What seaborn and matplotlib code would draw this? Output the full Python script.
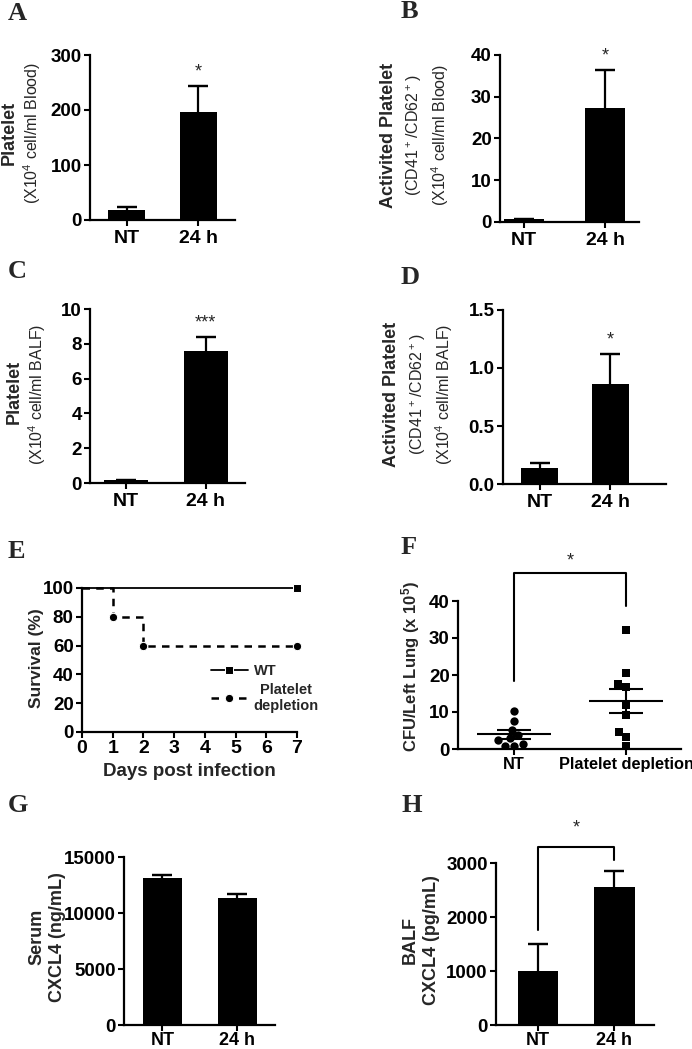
import numpy as np
import pandas as pd
import matplotlib
matplotlib.use("Agg")
import matplotlib.pyplot as plt
import seaborn as sns

W, H = 692, 1049

# values
bar_groups = ["NT", "24 h"]

blood_platelet = [18, 197]
blood_platelet_sem = [6, 47]

blood_active = [0.7, 27.3]
blood_active_sem = [0.1, 9.2]

balf_platelet = [0.17, 7.6]
balf_platelet_sem = [0.03, 0.8]

balf_active = [0.14, 0.86]
balf_active_sem = [0.04, 0.26]

serum_cxcl4 = [13150, 11370]
serum_cxcl4_sem = [280, 360]

balf_cxcl4 = [1005, 2555]
balf_cxcl4_sem = [495, 297]

days = [0, 1, 2, 7]
surv_wt = [100, 100, 100, 100]
surv_depl = [100, 80, 60, 60]

cfu_groups = ["NT", "Platelet depletion"]
cfu_nt = [10.3, 7.7, 5.2, 3.7, 2.9, 2.3, 1.4, 0.9, 0.9]
cfu_depl = [32.1, 20.5, 16.8, 17.5, 12.0, 9.1, 4.6, 3.2, 0.8]

sns.set_theme(style="ticks")
plt.rcParams["font.family"] = ["Liberation Sans", "DejaVu Sans"]
plt.rcParams["font.weight"] = "bold"
plt.rcParams["mathtext.default"] = "regular"

fig = plt.figure(figsize=(W / 100, H / 100), dpi=100)


def add_ax(x0, y0, x1, y1):
    # box in pixels (left, top, right, bottom)
    return fig.add_axes([x0 / W, 1 - y1 / H, (x1 - x0) / W, (y1 - y0) / H])


def ftext(x, y, s, **kw):
    kw.setdefault("ha", "center")
    kw.setdefault("va", "center")
    return fig.text(x / W, 1 - y / H, s, **kw)


def style_ax(ax):
    sns.despine(ax=ax)
    for sp in ["left", "bottom"]:
        ax.spines[sp].set_linewidth(1.6)
        ax.spines[sp].set_color("black")
    ax.tick_params(direction="out", length=4, width=1.5, labelsize=13.5,
                   colors="black", pad=2)
    ax.set_xlabel("")
    ax.set_ylabel("")


def bar_panel(box, xlim, vals, errs, yticks, width, fmt="{:g}", star=None):
    ax = add_ax(*box)
    df = pd.DataFrame({"group": bar_groups, "value": vals})
    sns.barplot(data=df, x="group", y="value", color="black", saturation=1,
                width=width, errorbar=None, edgecolor="black", linewidth=0, ax=ax)
    # only the upper half of the SEM bar, as in the original
    ups = np.array(vals) + np.array(errs)
    ax.vlines([0, 1], vals, ups, color="black", linewidth=1.6)
    ax.errorbar([0, 1], ups, yerr=0, fmt="none", ecolor="black",
                capsize=7, capthick=1.6)
    ax.set_xlim(*xlim)
    ax.set_ylim(yticks[0], yticks[-1])
    ax.set_yticks(yticks)
    ax.set_yticklabels([fmt.format(t) for t in yticks])
    style_ax(ax)
    ax.tick_params(axis="x", labelsize=14, pad=3)
    if star:
        top = yticks[-1]
        ax.text(1, ups[1] + 0.03 * top, star, ha="center", va="bottom",
                fontsize=13, fontweight="normal", clip_on=False)
    return ax


# A
bar_panel((90, 55, 235, 220), (-0.52, 1.52), blood_platelet, blood_platelet_sem,
          [0, 100, 200, 300], 0.52, star="*")
ftext(9, 133, "Platelet", rotation=90, fontsize=13)
ftext(32, 133, "(X10$^4$ cell/ml Blood)", rotation=90, fontsize=11.5, fontweight="normal")

# B
bar_panel((500, 55, 639, 222), (-0.30, 1.42), blood_active, blood_active_sem,
          [0, 10, 20, 30, 40], 0.5, star="*")
ftext(389, 135, "Activited Platelet", rotation=90, fontsize=13)
ftext(414, 135, "(CD41$^+$/CD62$^+$)", rotation=90, fontsize=11.5, fontweight="normal")
ftext(440, 135, "(X10$^4$ cell/ml Blood)", rotation=90, fontsize=11.5, fontweight="normal")

# C
bar_panel((90, 309, 245, 483), (-0.45, 1.49), balf_platelet, balf_platelet_sem,
          [0, 2, 4, 6, 8, 10], 0.55, star="***")
ftext(14, 392, "Platelet", rotation=90, fontsize=13)
ftext(37, 394, "(X10$^4$ cell/ml BALF)", rotation=90, fontsize=11.5, fontweight="normal")

# D
bar_panel((503, 310, 666, 484), (-0.52, 1.79), balf_active, balf_active_sem,
          [0.0, 0.5, 1.0, 1.5], 0.53, fmt="{:.1f}", star="*")
ftext(391, 394, "Activited Platelet", rotation=90, fontsize=13)
ftext(418, 394, "(CD41$^+$/CD62$^+$)", rotation=90, fontsize=11.5, fontweight="normal")
ftext(444, 394, "(X10$^4$ cell/ml BALF)", rotation=90, fontsize=11.5, fontweight="normal")

# E - survival
ax = add_ax(82, 588, 297, 732)
sns.lineplot(x=days, y=surv_wt, color="black", linewidth=1.3, drawstyle="steps-post",
             marker="s", markersize=6, markevery=[3], label="WT", ax=ax, clip_on=False)
sns.lineplot(x=days, y=surv_depl, color="black", linewidth=1.8, drawstyle="steps-post",
             linestyle=(0, (3, 2.5)), marker="o", markersize=6, markevery=[1, 2, 3],
             label="Platelet\ndepletion", ax=ax, clip_on=False)
ax.set_xlim(0, 7)
ax.set_ylim(0, 100)
ax.set_xticks(range(8))
ax.set_yticks(range(0, 101, 20))
style_ax(ax)
ax.tick_params(axis="x", labelsize=14)
ax.set_xlabel("Days post infection", fontsize=13.5, fontweight="bold", labelpad=4)
ftext(37, 658, "Survival (%)", rotation=90, fontsize=12.5)
leg = ax.legend(loc="upper left", bbox_to_anchor=(0.54, 0.56), frameon=False,
                fontsize=10.5, handlelength=2.5, handletextpad=0.4, labelspacing=0.3)
for t in leg.get_texts():
    t.set_multialignment("center")

# F - CFU scatter
ax = add_ax(458, 601, 681, 749)
df_nt = pd.DataFrame({"group": "NT", "cfu": cfu_nt})
df_dp = pd.DataFrame({"group": "Platelet depletion", "cfu": cfu_depl})
sns.swarmplot(data=df_nt, x="group", y="cfu", order=cfu_groups, color="black",
              marker="o", size=6, ax=ax)
sns.swarmplot(data=df_dp, x="group", y="cfu", order=cfu_groups, color="black",
              marker="s", size=6, ax=ax)
for i, v in enumerate([cfu_nt, cfu_depl]):
    m = np.mean(v)
    s = np.std(v, ddof=1) / np.sqrt(len(v))
    ax.hlines(m, i - 0.33, i + 0.33, color="black", linewidth=1.5)
    ax.hlines([m - s, m + s], i - 0.15, i + 0.15, color="black", linewidth=1.5)
    ax.vlines(i, m - s, m + s, color="black", linewidth=1.5)
ax.set_xlim(-0.5, 1.49)
ax.set_ylim(0, 40)
ax.set_yticks(range(0, 41, 10))
style_ax(ax)
ax.tick_params(axis="x", labelsize=11.8)
top = 40 * 1.19
ax.plot([0, 0, 1, 1], [max(cfu_nt) + 8, top, top, max(cfu_depl) + 6.5],
        color="black", linewidth=1.5, clip_on=False)
ax.text(0.5, top + 0.8, "*", ha="center", va="bottom", fontsize=13,
        fontweight="normal", clip_on=False)
ftext(411, 667, "CFU/Left Lung (x 10$^{5}$)", rotation=90, fontsize=12)

# G
ax = bar_panel((124, 857, 275, 1025), (-0.51, 1.5), serum_cxcl4, serum_cxcl4_sem,
               [0, 5000, 10000, 15000], 0.52)
ax.tick_params(axis="x", labelsize=13, pad=1)
ftext(37, 937, "Serum", rotation=90, fontsize=13)
ftext(57, 937, "CXCL4 (ng/mL)", rotation=90, fontsize=13)

# H
ax = bar_panel((496, 863, 654, 1025), (-0.55, 1.52), balf_cxcl4, balf_cxcl4_sem,
               [0, 1000, 2000, 3000], 0.53)
ax.tick_params(axis="x", labelsize=13, pad=1)
top = 3000 * 1.1
ax.plot([0, 0, 1, 1],
        [balf_cxcl4[0] + balf_cxcl4_sem[0] + 260, top, top,
         balf_cxcl4[1] + balf_cxcl4_sem[1] + 200],
        color="black", linewidth=1.5, clip_on=False)
ax.text(0.5, top + 200, "*", ha="center", va="bottom", fontsize=13,
        fontweight="normal", clip_on=False)
ftext(410, 940, "BALF", rotation=90, fontsize=13)
ftext(432, 940, "CXCL4 (pg/mL)", rotation=90, fontsize=13)

# panel letters
for lab, x, y in [("A", 8, 14), ("B", 401, 12), ("C", 8, 272), ("D", 401, 277),
                  ("E", 8, 552), ("F", 401, 547), ("G", 8, 806), ("H", 401, 805)]:
    ftext(x, y, lab, ha="left", family="Liberation Serif", fontsize=19,
          fontweight="bold")

fig.savefig("out.png", dpi=100)
